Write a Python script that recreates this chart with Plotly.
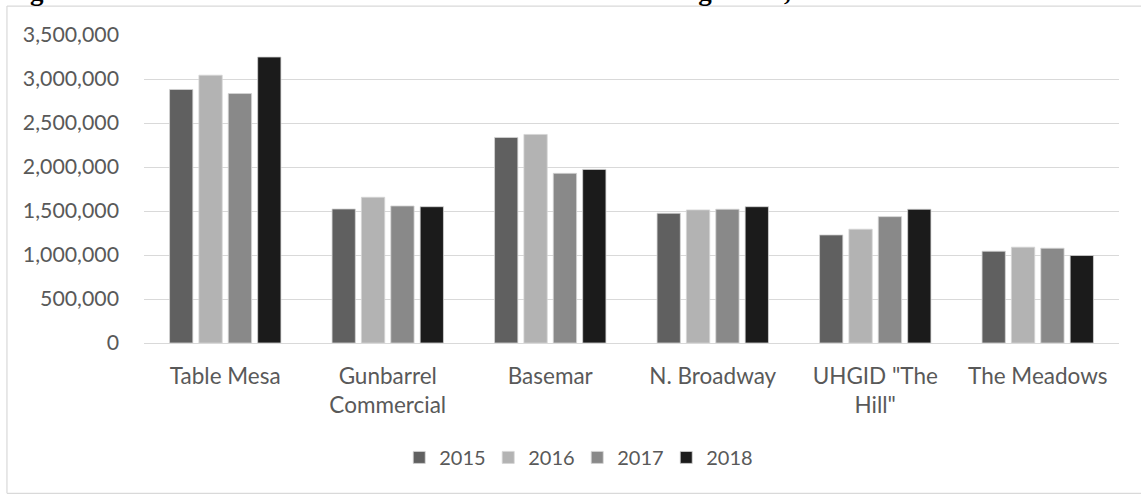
import plotly.graph_objects as go

categories = ["Table Mesa", "Gunbarrel<br>Commercial", "Basemar", "N. Broadway", "UHGID \"The<br>Hill\"", "The Meadows"]
years = ["2015", "2016", "2017", "2018"]
v2015 = [2881000, 1523000, 2336000, 1474000, 1228000, 1043000]
v2016 = [3043000, 1656000, 2370000, 1512000, 1293000, 1089000]
v2017 = [2835000, 1557000, 1928000, 1520000, 1436000, 1077000]
v2018 = [3250000, 1549000, 1973000, 1549000, 1520000, 994000]
series = [v2015, v2016, v2017, v2018]
colors = ["#606060", "#b3b3b3", "#898989", "#1b1b1b"]
yticks = [0, 500000, 1000000, 1500000, 2000000, 2500000, 3000000, 3500000]
title_text = "Figure 6: Sales Tax Revenues for Fewer Sales Tax Generating Areas, 2015-2018"

W, H = 1141, 496
PL, PR, PT, PB = 143.6, 1119.0, 34.5, 343.3
FONT = "Lato"
TXT = "#595959"
FRAME = "#d9d9d9"

def px_x(p):
    return (p - PL) / (PR - PL)

def px_y(p):
    return (PB - p) / (PB - PT)

fig = go.Figure()
for name, vals, col in zip(years, series, colors):
    fig.add_trace(go.Bar(
        x=categories, y=vals, name=name,
        marker=dict(color=col, line=dict(color="#d4d4d4", width=0.8)),
    ))

frame_left, frame_right, frame_top, frame_bottom = px_x(6.5), px_x(1200), px_y(5.5), px_y(494)
frame = [
    dict(type="line", xref="paper", yref="paper", x0=frame_left, x1=frame_left,
         y0=frame_bottom, y1=frame_top, line=dict(color=FRAME, width=1.2), layer="below"),
    dict(type="line", xref="paper", yref="paper", x0=frame_left, x1=frame_right,
         y0=frame_top, y1=frame_top, line=dict(color=FRAME, width=1.2), layer="below"),
    dict(type="line", xref="paper", yref="paper", x0=frame_left, x1=frame_right,
         y0=frame_bottom, y1=frame_bottom, line=dict(color=FRAME, width=1.2), layer="below"),
]

fig.update_layout(
    width=W, height=H,
    margin=dict(l=PL, r=W - PR, t=PT, b=H - PB, pad=0),
    paper_bgcolor="white", plot_bgcolor="white",
    barmode="group", bargap=0.277, bargroupgap=0.207,
    font=dict(family=FONT, size=20, color=TXT),
    showlegend=True,
    legend=dict(orientation="h", x=px_x(577), xanchor="center",
                y=px_y(458), yanchor="middle",
                font=dict(family=FONT, size=20, color=TXT),
                entrywidth=44, entrywidthmode="pixels",
                traceorder="normal"),
    xaxis=dict(showgrid=False, showline=True, linecolor="#d9d9d9", linewidth=1,
               ticks="", tickfont=dict(family=FONT, size=22.5, color=TXT),
               ticklabelstandoff=13, fixedrange=True),
    yaxis=dict(range=[0, 3500000], tickvals=yticks, tickformat=",",
               showgrid=True, gridcolor="#d9d9d9", gridwidth=1,
               zeroline=False, showline=False, ticks="",
               tickfont=dict(family=FONT, size=21.3, color=TXT),
               ticklabelstandoff=24, fixedrange=True),
    shapes=frame,
    annotations=[dict(text="<b>" + title_text + "</b>", xref="paper", yref="paper",
                      x=px_x(4), xanchor="left", y=px_y(7.6), yanchor="bottom",
                      showarrow=False,
                      font=dict(family="Liberation Serif", size=27, color="black"))],
)

fig.write_html("out.html", config={"displayModeBar": False},
               post_script="document.body.style.margin='0';document.documentElement.style.overflow='hidden';document.body.style.overflow='hidden';")
